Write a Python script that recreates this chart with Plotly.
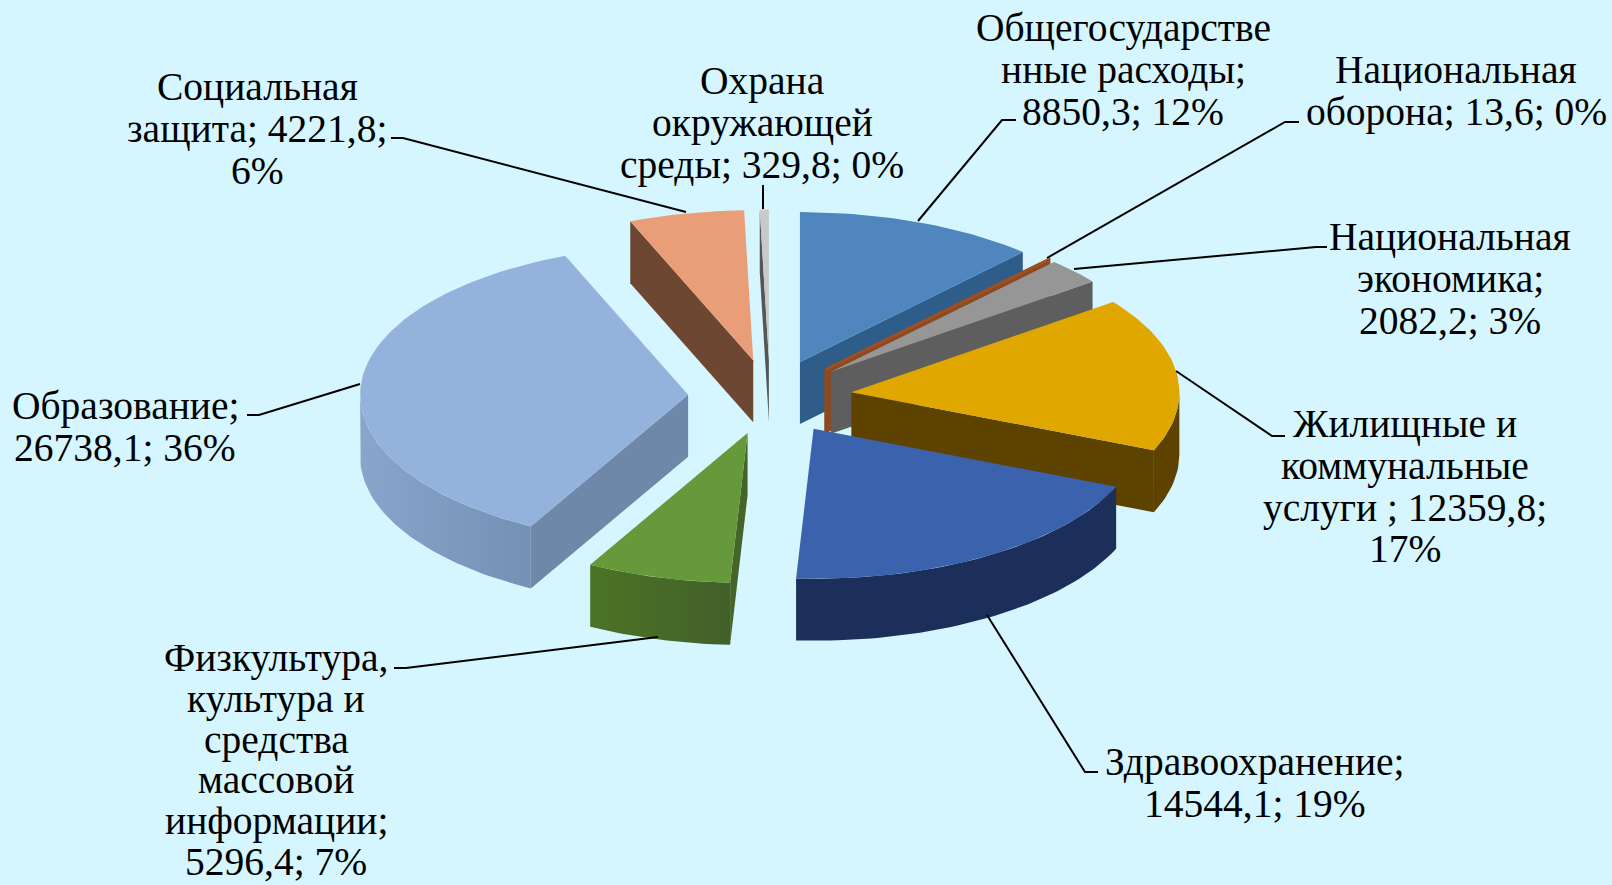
import numpy as np
import plotly.graph_objects as go

# ---- data ----
categories = ["Общегосударственные расходы", "Национальная оборона", "Национальная экономика",
              "Жилищные и коммунальные услуги", "Здравоохранение",
              "Физкультура, культура и средства массовой информации",
              "Образование", "Социальная защита", "Охрана окружающей среды"]
values = [8850.3, 13.6, 2082.2, 12359.8, 14544.1, 5296.4, 26738.1, 4221.8, 329.8]
percents = [12, 0, 3, 17, 19, 7, 36, 6, 0]

# ---- styles ----
top_colors = ["#4F86BD", "#A04E22", "#969696", "#E0A700", "#3B62AC", "#66993A", "#94B3DC", "#E99E78", "#C9C9C9"]
side_colors = ["#2F5D8A", "#8A4A22", "#5E5E5E", "#5E4300", "#1B2F5A", "#456428", "#6F87A9", "#6E4733", "#555555"]
rim_colors = [("#2F5D8A", "#2F5D8A"), ("#8A4A22", "#8A4A22"), ("#5E5E5E", "#5E5E5E"), ("#5E4300", "#5E4300"),
              ("#1B2F5A", "#1B2F5A"), ("#4C7426", "#42602A"), ("#8AA5CB", "#7590B5"), ("#6E4733", "#6E4733"),
              ("#555555", "#555555")]
edge_width = [0, 3, 0, 0, 0, 0, 0, 0, 0]
draw_order = [8, 7, 0, 1, 2, 6, 3, 5, 4]
BG = "#D5F6FF"

# pie geometry (plot units = pixels)
CX, CY, RX, RY, DEPTH, EXPLODE = 770, 397, 328, 150, 62, 0.25

total = sum(values)
edges = np.concatenate([[0], np.cumsum(values)]) / total * 2 * np.pi

fig = go.Figure()


def poly(xs, ys, color, width=0, grad=None):
    tr = dict(x=list(xs) + [xs[0]], y=list(ys) + [ys[0]], mode="lines", fill="toself",
              fillcolor=color, hoverinfo="skip", showlegend=False,
              line=dict(color=color, width=width))
    if grad:
        tr["fillgradient"] = dict(type="horizontal",
                                  colorscale=[[0, grad[0]], [1, grad[1]]])
    fig.add_trace(go.Scatter(**tr))


for i in draw_order:
    a0, a1 = edges[i], edges[i + 1]
    mid = (a0 + a1) / 2
    ax = CX + RX * EXPLODE * np.sin(mid)
    ay = CY - RY * EXPLODE * np.cos(mid)
    th = np.linspace(a0, a1, max(2, int((a1 - a0) * 40)))
    rimx = ax + RX * np.sin(th)
    rimy = ay - RY * np.cos(th)
    w = edge_width[i]
    # radial walls that face the viewer
    if np.sin(a0) < 0:
        poly([ax, rimx[0], rimx[0], ax], [ay, rimy[0], rimy[0] + DEPTH, ay + DEPTH], side_colors[i], w)
    if np.sin(a1) > 0:
        poly([ax, rimx[-1], rimx[-1], ax], [ay, rimy[-1], rimy[-1] + DEPTH, ay + DEPTH], side_colors[i], w)
    # outer wall (front half of the rim only)
    mask = np.cos(th) < 0
    if mask.any():
        rx_, ry_ = rimx[mask], rimy[mask]
        poly(list(rx_) + list(rx_[::-1]), list(ry_) + list((ry_ + DEPTH)[::-1]),
             side_colors[i], 0, grad=rim_colors[i])
    # top face
    poly([ax] + list(rimx), [ay] + list(rimy), top_colors[i], w)

# ---- leader lines ----
leaders = [
    [(686, 212), (403, 138), (391, 138)],
    [(763, 209), (763, 185)],
    [(918, 221), (1002, 120), (1016, 120)],
    [(1047, 258), (1285, 122), (1299, 122)],
    [(1074, 269), (1316, 247), (1327, 247)],
    [(1176, 371), (1272, 436), (1285, 436)],
    [(987, 615), (1085, 772), (1098, 772)],
    [(658, 637), (406, 668), (394, 668)],
    [(360, 384), (259, 415), (247, 415)],
]
for pts in leaders:
    fig.add_trace(go.Scatter(x=[p[0] for p in pts], y=[p[1] for p in pts], mode="lines",
                             line=dict(color="#000000", width=2), hoverinfo="skip", showlegend=False))

# ---- labels: (centre x, first line centre y, line pitch, lines) ----
labels = [
    (257, 87, 41.8, ["Социальная", "защита; 4221,8;", "6%"]),
    (762, 81, 41.8, ["Охрана", "окружающей", "среды; 329,8; 0%"]),
    (1123, 28, 41.8, ["Общегосударстве", "нные расходы;", "8850,3; 12%"]),
    (1456, 70, 41.8, ["Национальная", "оборона; 13,6; 0%"]),
    (1450, 237, 41.8, ["Национальная", "экономика;", "2082,2; 3%"]),
    (1405, 424, 41.8, ["Жилищные и", "коммунальные", "услуги ; 12359,8;", "17%"]),
    (1255, 762, 41.8, ["Здравоохранение;", "14544,1; 19%"]),
    (276, 658, 40.8, ["Физкультура,", "культура и", "средства", "массовой", "информации;", "5296,4; 7%"]),
    (125, 406, 41.8, ["Образование;", "26738,1; 36%"]),
]
annotations = []
for x, y, pitch, lines in labels:
    for k, s in enumerate(lines):
        annotations.append(dict(x=x, y=y + k * pitch, text=s, showarrow=False, xref="x", yref="y",
                                xanchor="center", yanchor="middle",
                                font=dict(family="Liberation Serif", size=39.5, color="#000000")))

fig.update_layout(
    width=1612, height=885, autosize=False,
    margin=dict(l=0, r=0, t=0, b=0),
    paper_bgcolor=BG, plot_bgcolor=BG,
    xaxis=dict(range=[0, 1612], visible=False, fixedrange=True),
    yaxis=dict(range=[885, 0], visible=False, fixedrange=True),
    annotations=annotations, showlegend=False,
)
fig.write_html("out.html", config={"displayModeBar": False},
               post_script="document.body.style.margin='0';document.body.style.overflow='hidden';"
                           "document.body.style.background='" + BG + "';")
